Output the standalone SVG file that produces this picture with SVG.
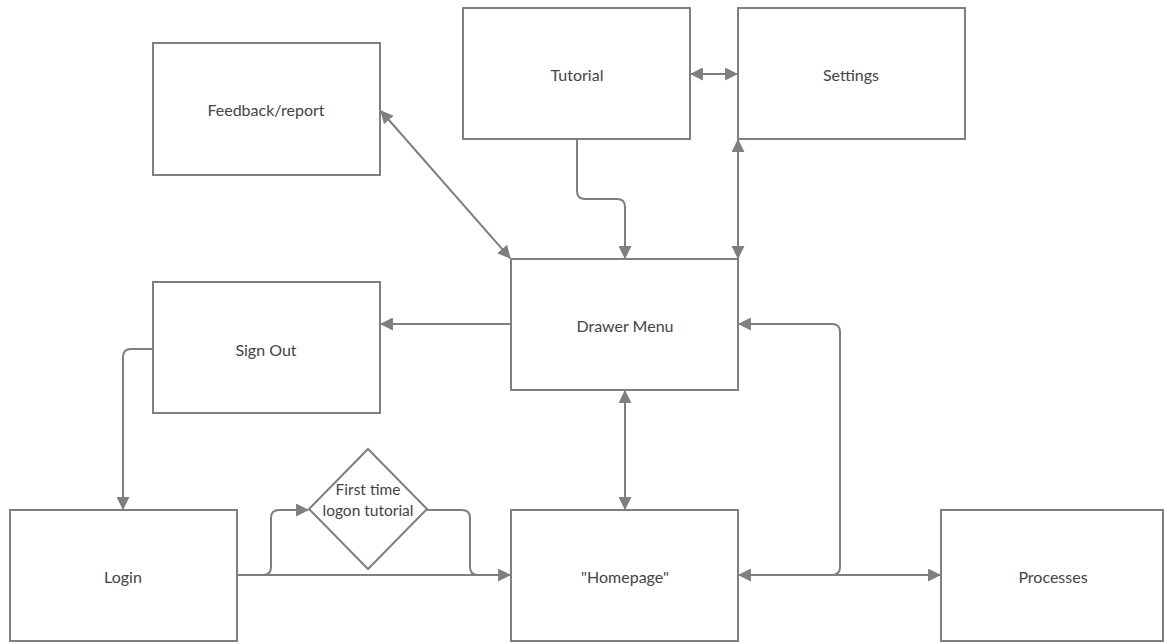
<svg xmlns="http://www.w3.org/2000/svg" width="1164" height="643" viewBox="0 0 1164 643">
<style>
.n{fill:#fff;stroke:#7f7f7f;stroke-width:2}
.t{font-family:Lato,"Liberation Sans",sans-serif;font-size:16px;fill:#444;text-anchor:middle;dominant-baseline:central}
.d{font-size:15.5px}
.c{fill:none;stroke:#7f7f7f;stroke-width:2}
</style>
<defs>
<marker id="a" viewBox="0 0 12 12" refX="11" refY="6" markerWidth="13" markerHeight="13" markerUnits="userSpaceOnUse" orient="auto-start-reverse">
<path d="M0,0 L12,6 L0,12 z" fill="#7f7f7f"/>
</marker>
</defs>
<rect width="1164" height="643" fill="#fff"/>
<g id="connectors">
<path class="c" d="M691,74 H737" marker-start="url(#a)" marker-end="url(#a)"/>
<path class="c" d="M577,139 V191 Q577,199 585,199 H617 Q625,199 625,207 V258" marker-end="url(#a)"/>
<path class="c" d="M738,140 V258" marker-start="url(#a)" marker-end="url(#a)"/>
<path class="c" d="M381,111 L510,258" marker-start="url(#a)" marker-end="url(#a)"/>
<path class="c" d="M511,324 H381" marker-end="url(#a)"/>
<path class="c" d="M153,349 H131 Q123,349 123,357 V509" marker-end="url(#a)"/>
<path class="c" d="M625,391 V509" marker-start="url(#a)" marker-end="url(#a)"/>
<path class="c" d="M237,575 H510" marker-end="url(#a)"/>
<path class="c" d="M263,575 Q271,575 271,567 V518 Q271,510 279,510 H308" marker-end="url(#a)"/>
<path class="c" d="M427,510 H462 Q470,510 470,518 V567 Q470,575 478,575"/>
<path class="c" d="M739,575 H940" marker-start="url(#a)" marker-end="url(#a)"/>
<path class="c" d="M832,575 Q840,575 840,567 V332 Q840,324 832,324 H739" marker-end="url(#a)"/>
</g>
<g id="feedback"><rect class="n" x="153" y="43" width="227" height="132"/><text class="t" x="266" y="109">Feedback/report</text></g>
<g id="tutorial"><rect class="n" x="463" y="8" width="227" height="131"/><text class="t" x="577" y="74">Tutorial</text></g>
<g id="settings"><rect class="n" x="738" y="8" width="227" height="131"/><text class="t" x="851" y="74">Settings</text></g>
<g id="drawer"><rect class="n" x="511" y="259" width="227" height="131"/><text class="t" x="625" y="325">Drawer Menu</text></g>
<g id="signout"><rect class="n" x="153" y="282" width="227" height="131"/><text class="t" x="266" y="349">Sign Out</text></g>
<g id="login"><rect class="n" x="10" y="510" width="227" height="131"/><text class="t" x="123" y="576">Login</text></g>
<g id="homepage"><rect class="n" x="511" y="510" width="227" height="131"/><text class="t" x="625" y="576">"Homepage"</text></g>
<g id="processes"><rect class="n" x="941" y="510" width="222" height="131"/><text class="t" x="1053" y="576">Processes</text></g>
<g id="firsttime"><path class="n" d="M368,449 L427,509 L368,569 L309,509 Z"/><text class="t d" x="368" y="489">First time</text><text class="t d" x="368" y="510">logon tutorial</text></g>
</svg>
